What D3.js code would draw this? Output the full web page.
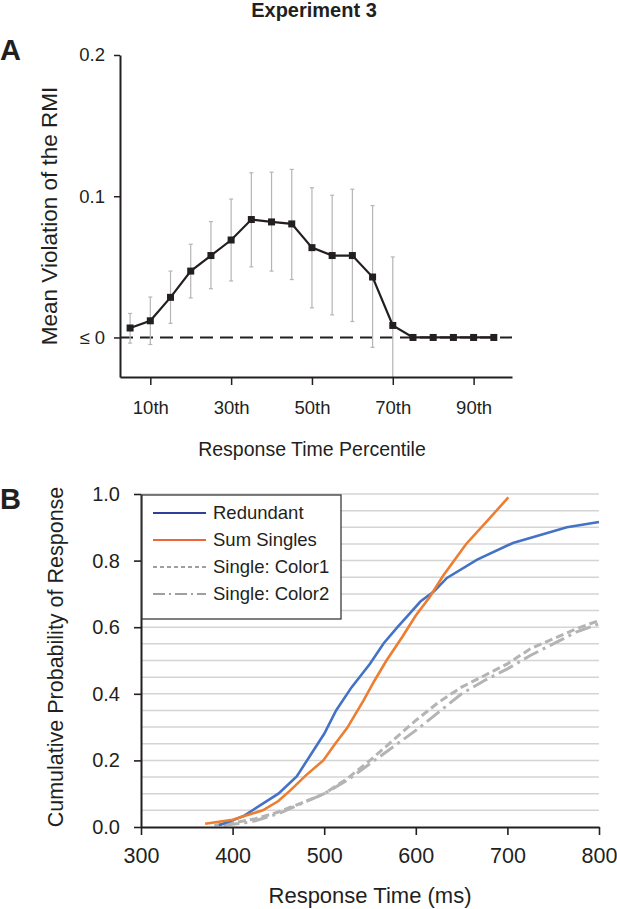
<!DOCTYPE html>
<html><head><meta charset="utf-8">
<script src="https://cdn.jsdelivr.net/npm/d3@7"></script>
<style>
body{margin:0;background:#fff;}
svg text{font-family:"Liberation Sans",Arial,sans-serif;fill:#231f20;}
</style></head>
<body>
<svg id="c" width="617" height="909"></svg>
<script>
// ---------- Panel A data ----------
const percentiles = [5,10,15,20,25,30,35,40,45,50,55,60,65,70,75,80,85,90,95];
const meanViolation = [0.0067,0.0118,0.0284,0.047,0.058,0.069,0.0835,0.0818,0.0804,0.0636,0.058,0.058,0.0428,0.0085,0,0,0,0,0];
const upperCI = [0.017,0.0286,0.047,0.066,0.082,0.098,0.1166,0.117,0.119,0.106,0.1007,0.105,0.0934,0.057,null,null,null,null,null];
const lowerCI = [-0.004,-0.005,0.010,0.028,0.0345,0.040,0.050,0.047,0.041,0.021,0.016,0.0113,-0.007,-0.045,null,null,null,null,null];
const xTicksA = [10,30,50,70,90];
const xTickLabelsA = ["10th","30th","50th","70th","90th"];
const yTicksA = [0,0.1,0.2];
const yTickLabelsA = ["\u2264 0","0.1","0.2"];

// ---------- Panel B data ----------
const redundant = [[385,0.005],[400,0.02],[412,0.033],[430,0.065],[450,0.10],[470,0.152],[490,0.237],[500,0.28],[513,0.35],[530,0.42],[550,0.49],[565,0.552],[580,0.60],[594,0.643],[605,0.677],[620,0.708],[634,0.748],[667,0.803],[706,0.853],[765,0.90],[800,0.916]];
const sumSingles = [[370,0.01],[400,0.022],[433,0.05],[450,0.078],[463,0.11],[480,0.155],[499,0.20],[512,0.25],[525,0.297],[543,0.38],[555,0.44],[568,0.50],[585,0.57],[600,0.635],[615,0.69],[630,0.755],[655,0.85],[680,0.925],[701,0.99]];
const singleColor1 = [[380,0.005],[400,0.012],[425,0.025],[450,0.045],[475,0.072],[500,0.10],[525,0.145],[550,0.20],[575,0.26],[600,0.32],[625,0.375],[650,0.42],[675,0.455],[700,0.49],[725,0.535],[750,0.565],[775,0.595],[800,0.62]];
const singleColor2 = [[390,0.005],[420,0.015],[450,0.04],[475,0.07],[500,0.10],[525,0.14],[550,0.19],[575,0.24],[600,0.29],[625,0.345],[650,0.40],[675,0.44],[700,0.475],[725,0.515],[750,0.55],[775,0.585],[800,0.61]];
const seriesNames = ["Redundant","Sum Singles","Single: Color1","Single: Color2"];
const xTicksB = [300,400,500,600,700,800];
const yTicksB = [0,0.2,0.4,0.6,0.8,1.0];

const svg = d3.select("#c");

// Title and panel letters
svg.append("text").attr("x",314).attr("y",17).attr("text-anchor","middle")
  .style("font-size","20px").style("font-weight","bold").text("Experiment 3");
svg.append("text").attr("x",0).attr("y",60).style("font-size","29px").style("font-weight","bold").text("A");
svg.append("text").attr("x",0).attr("y",509).style("font-size","29px").style("font-weight","bold").text("B");

// ================= Panel A =================
const xA = d3.scaleLinear().domain([2.5,99.5]).range([120,512]);
const yA = d3.scaleLinear().domain([-0.028,0.2]).range([377,55]);

const clipA = svg.append("clipPath").attr("id","clipA").append("rect")
  .attr("x",120).attr("y",40).attr("width",400).attr("height",337);

// zero dashed line
svg.append("line").attr("x1",xA(2.5)).attr("x2",xA(99.5)).attr("y1",yA(0)).attr("y2",yA(0))
  .attr("stroke","#231f20").attr("stroke-width",2).attr("stroke-dasharray","13,7");

// error bars
const gErr = svg.append("g").attr("clip-path","url(#clipA)");
percentiles.forEach((p,i)=>{
  if(upperCI[i]===null) return;
  const x = xA(p);
  gErr.append("line").attr("x1",x).attr("x2",x).attr("y1",yA(upperCI[i])).attr("y2",yA(lowerCI[i]))
    .attr("stroke","#b5b5b5").attr("stroke-width",1.2);
  [upperCI[i],lowerCI[i]].forEach(v=>{
    gErr.append("line").attr("x1",x-2).attr("x2",x+2).attr("y1",yA(v)).attr("y2",yA(v))
      .attr("stroke","#b5b5b5").attr("stroke-width",1.2);
  });
});

// mean line + markers
const lineA = d3.line().x((d,i)=>xA(percentiles[i])).y(d=>yA(d));
svg.append("path").datum(meanViolation).attr("d",lineA).attr("fill","none")
  .attr("stroke","#231f20").attr("stroke-width",2.2);
svg.append("g").selectAll("rect").data(meanViolation).join("rect")
  .attr("x",(d,i)=>xA(percentiles[i])-3.5).attr("y",d=>yA(d)-3.5)
  .attr("width",7).attr("height",7).attr("fill","#231f20");

// axes A
const axA_y = svg.append("g").attr("transform","translate(120,0)")
  .call(d3.axisLeft(yA).tickValues(yTicksA).tickFormat((d,i)=>yTickLabelsA[i]).tickSize(6).tickSizeOuter(0).tickPadding(9));
const axA_x = svg.append("g").attr("transform","translate(0,377)")
  .call(d3.axisBottom(xA).tickValues(xTicksA).tickFormat((d,i)=>xTickLabelsA[i]).tickSize(8).tickSizeOuter(0).tickPadding(16));
[axA_y,axA_x].forEach(g=>{
  g.select(".domain").attr("stroke","#231f20").attr("stroke-width",2);
  g.selectAll(".tick line").attr("stroke","#231f20").attr("stroke-width",1.5);
  g.selectAll(".tick text").style("font-size","18.5px").attr("fill","#231f20");
});
svg.append("text").attr("x",312).attr("y",456).attr("text-anchor","middle")
  .style("font-size","19.5px").text("Response Time Percentile");
svg.append("text").attr("transform","translate(57,216) rotate(-90)").attr("text-anchor","middle")
  .style("font-size","22.5px").text("Mean Violation of the RMI");

// ================= Panel B =================
const xB = d3.scaleLinear().domain([300,800]).range([141,599]);
const yB = d3.scaleLinear().domain([0,1]).range([827,494]);

// gridlines every 0.05
const gridVals = d3.range(1,21).map(k=>k*0.05);
svg.append("g").selectAll("line").data(gridVals).join("line")
  .attr("x1",xB(300)).attr("x2",xB(800)).attr("y1",d=>yB(d)).attr("y2",d=>yB(d))
  .attr("stroke","#d4d4d4").attr("stroke-width",1.5);

const lineB = d3.line().x(d=>xB(d[0])).y(d=>yB(d[1]));
svg.append("path").datum(singleColor2).attr("d",lineB).attr("fill","none")
  .attr("stroke","#b4b4b4").attr("stroke-width",3).attr("stroke-dasharray","16,5,3,5");
svg.append("path").datum(singleColor1).attr("d",lineB).attr("fill","none")
  .attr("stroke","#b4b4b4").attr("stroke-width",3).attr("stroke-dasharray","8,4");
svg.append("path").datum(redundant).attr("d",lineB).attr("fill","none")
  .attr("stroke","#4472c4").attr("stroke-width",2.6);
svg.append("path").datum(sumSingles).attr("d",lineB).attr("fill","none")
  .attr("stroke","#ed7d31").attr("stroke-width",2.6);

// axes B
const axB_y = svg.append("g").attr("transform","translate(141,0)")
  .call(d3.axisLeft(yB).tickValues(yTicksB).tickFormat(d3.format(".1f")).tickSize(7).tickSizeOuter(0).tickPadding(14));
const axB_x = svg.append("g").attr("transform","translate(0,827)")
  .call(d3.axisBottom(xB).tickValues(xTicksB).tickFormat(d3.format("d")).tickSize(8).tickSizeOuter(0).tickPadding(13));
[axB_y,axB_x].forEach(g=>{
  g.select(".domain").attr("stroke","#231f20").attr("stroke-width",2);
  g.selectAll(".tick line").attr("stroke","#231f20").attr("stroke-width",1.6);
  g.selectAll(".tick text").attr("fill","#231f20");
});
axB_y.selectAll(".tick text").style("font-size","20px");
axB_x.selectAll(".tick text").style("font-size","21.5px");

svg.append("text").attr("x",370).attr("y",903).attr("text-anchor","middle")
  .style("font-size","22px").text("Response Time (ms)");
svg.append("text").attr("transform","translate(63,657) rotate(-90)").attr("text-anchor","middle")
  .style("font-size","21.5px").text("Cumulative Probability of Response");

// legend
const lg = svg.append("g");
lg.append("rect").attr("x",142).attr("y",495).attr("width",199).attr("height",124)
  .attr("fill","#fff").attr("stroke","#3a3a3a").attr("stroke-width",1.3);
const legStyles = [
  {c:"#2e3f9c",d:null,w:1.8},
  {c:"#f0643a",d:null,w:1.8},
  {c:"#808080",d:"4,3",w:1.5},
  {c:"#808080",d:"12,4,2,4",w:1.5}
];
seriesNames.forEach((n,i)=>{
  const y = 513 + i*27;
  const l = lg.append("line").attr("x1",153).attr("x2",206).attr("y1",y).attr("y2",y)
    .attr("stroke",legStyles[i].c).attr("stroke-width",legStyles[i].w);
  if(legStyles[i].d) l.attr("stroke-dasharray",legStyles[i].d);
  lg.append("text").attr("x",213).attr("y",y).attr("dy","0.35em").style("font-size","18.5px").text(n);
});
</script>
</body></html>
